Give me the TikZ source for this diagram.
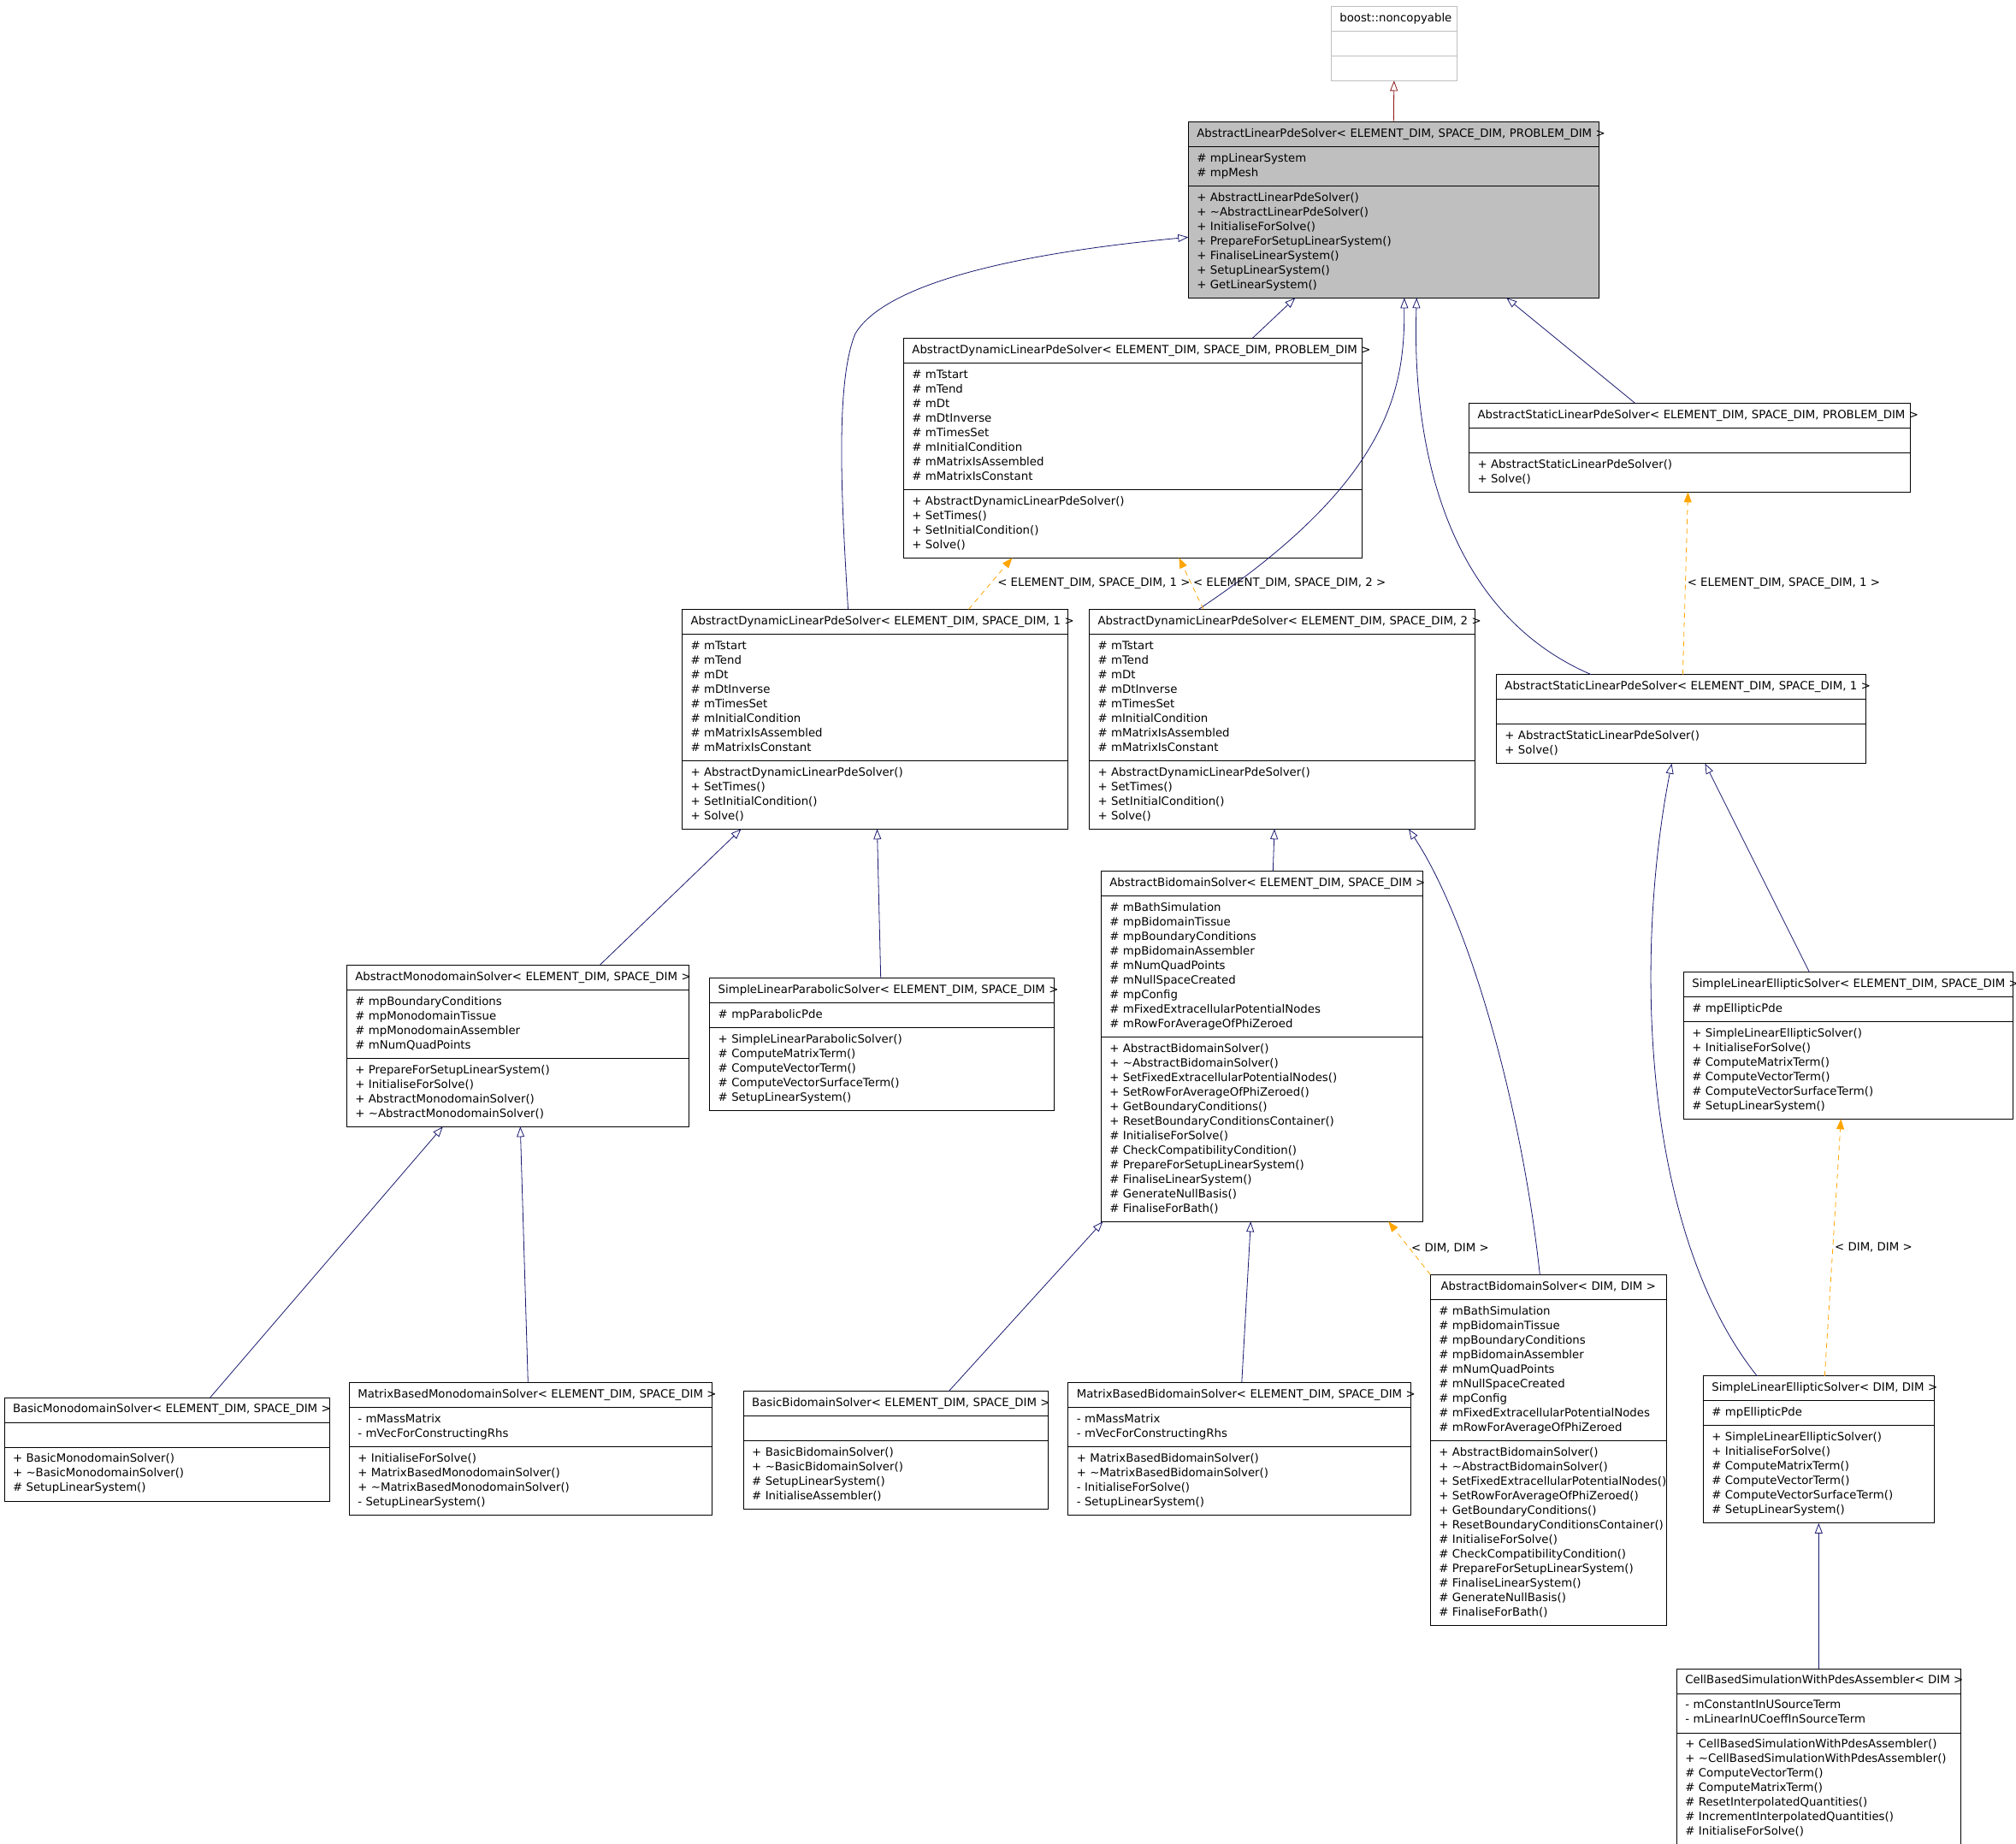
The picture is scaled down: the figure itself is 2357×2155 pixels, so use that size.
\documentclass[tikz,border=0pt]{standalone}
\usepackage{fontspec}
\newfontfamily\dejavu{DejaVu Sans}
\usetikzlibrary{arrows.meta,shapes.multipart}

\definecolor{midnight}{HTML}{191970}
\definecolor{firebrick}{HTML}{8B1A1A}
\definecolor{tplorange}{HTML}{FFA500}
\definecolor{graybox}{HTML}{BFBFBF}

\hfuzz=2000pt
\hbadness=10000
\hyphenpenalty=10000
\exhyphenpenalty=10000
% class name row: centred, or spilling out to the right when too long
\newcommand{\ctitle}[1]{\noindent\hbox to\linewidth{\hfil\strut#1\hfil}}
\newcommand{\cpart}[1]{\strut#1\strut}

\begin{document}
\begin{tikzpicture}[x=1pt, y=-1pt,
  cls/.style={rectangle split, rectangle split parts=3, draw, line width=1pt, fill=white,
    anchor=north west, inner xsep=10pt, inner ysep=5.5pt, outer sep=0pt, align=left,
    font=\dejavu\fontsize{13.3}{17}\selectfont},
  inh/.style={draw=midnight, line width=0.8pt, -{Triangle[open, length=12pt, width=9pt]}},
  priv/.style={draw=firebrick, line width=0.8pt, -{Triangle[open, length=12pt, width=9pt]}},
  tpl/.style={draw=tplorange, line width=0.8pt, dash pattern=on 6pt off 5pt,
    -{Triangle[length=12pt, width=9pt]}},
  lbl/.style={anchor=west, inner sep=2pt, font=\dejavu\fontsize{13.3}{17}\selectfont}]
\useasboundingbox (0,0) rectangle (2357,2155);

% classes
\node[cls, draw=graybox, text width=127pt] (B0) at (1556.3,7.3)
  {\ctitle{boost::noncopyable}\nodepart{two}\cpart{}\nodepart{three}\cpart{}};

\node[cls, fill=graybox, text width=460pt] (ALPS) at (1389.3,142.3)
  {\ctitle{AbstractLinearPdeSolver< ELEMENT\_DIM, SPACE\_DIM, PROBLEM\_DIM >}
   \nodepart{two}\cpart{\#~mpLinearSystem\\\#~mpMesh}
   \nodepart{three}\cpart{+~AbstractLinearPdeSolver()\\+~\textasciitilde AbstractLinearPdeSolver()\\+~InitialiseForSolve()\\+~PrepareForSetupLinearSystem()\\+~FinaliseLinearSystem()\\+~SetupLinearSystem()\\+~GetLinearSystem()}};

\node[cls, text width=516pt] (ADLPS) at (1056.4,395.3)
  {\ctitle{AbstractDynamicLinearPdeSolver< ELEMENT\_DIM, SPACE\_DIM, PROBLEM\_DIM >}
   \nodepart{two}\cpart{\#~mTstart\\\#~mTend\\\#~mDt\\\#~mDtInverse\\\#~mTimesSet\\\#~mInitialCondition\\\#~mMatrixIsAssembled\\\#~mMatrixIsConstant}
   \nodepart{three}\cpart{+~AbstractDynamicLinearPdeSolver()\\+~SetTimes()\\+~SetInitialCondition()\\+~Solve()}};

\node[cls, text width=495.7pt] (ASLPS) at (1717.5,471.3)
  {\ctitle{AbstractStaticLinearPdeSolver< ELEMENT\_DIM, SPACE\_DIM, PROBLEM\_DIM >}
   \nodepart{two}\cpart{}
   \nodepart{three}\cpart{+~AbstractStaticLinearPdeSolver()\\+~Solve()}};

\node[cls, text width=431pt] (ADLPS1) at (797.5,712.3)
  {\ctitle{AbstractDynamicLinearPdeSolver< ELEMENT\_DIM, SPACE\_DIM, 1 >}
   \nodepart{two}\cpart{\#~mTstart\\\#~mTend\\\#~mDt\\\#~mDtInverse\\\#~mTimesSet\\\#~mInitialCondition\\\#~mMatrixIsAssembled\\\#~mMatrixIsConstant}
   \nodepart{three}\cpart{+~AbstractDynamicLinearPdeSolver()\\+~SetTimes()\\+~SetInitialCondition()\\+~Solve()}};

\node[cls, text width=431pt] (ADLPS2) at (1273.5,712.3)
  {\ctitle{AbstractDynamicLinearPdeSolver< ELEMENT\_DIM, SPACE\_DIM, 2 >}
   \nodepart{two}\cpart{\#~mTstart\\\#~mTend\\\#~mDt\\\#~mDtInverse\\\#~mTimesSet\\\#~mInitialCondition\\\#~mMatrixIsAssembled\\\#~mMatrixIsConstant}
   \nodepart{three}\cpart{+~AbstractDynamicLinearPdeSolver()\\+~SetTimes()\\+~SetInitialCondition()\\+~Solve()}};

\node[cls, text width=412pt] (ASLPS1) at (1749.4,788.7)
  {\ctitle{AbstractStaticLinearPdeSolver< ELEMENT\_DIM, SPACE\_DIM, 1 >}
   \nodepart{two}\cpart{}
   \nodepart{three}\cpart{+~AbstractStaticLinearPdeSolver()\\+~Solve()}};

\node[cls, text width=356pt] (ABS) at (1287.3,1018.3)
  {\ctitle{AbstractBidomainSolver< ELEMENT\_DIM, SPACE\_DIM >}
   \nodepart{two}\cpart{\#~mBathSimulation\\\#~mpBidomainTissue\\\#~mpBoundaryConditions\\\#~mpBidomainAssembler\\\#~mNumQuadPoints\\\#~mNullSpaceCreated\\\#~mpConfig\\\#~mFixedExtracellularPotentialNodes\\\#~mRowForAverageOfPhiZeroed}
   \nodepart{three}\cpart{+~AbstractBidomainSolver()\\+~\textasciitilde AbstractBidomainSolver()\\+~SetFixedExtracellularPotentialNodes()\\+~SetRowForAverageOfPhiZeroed()\\+~GetBoundaryConditions()\\+~ResetBoundaryConditionsContainer()\\\#~InitialiseForSolve()\\\#~CheckCompatibilityCondition()\\\#~PrepareForSetupLinearSystem()\\\#~FinaliseLinearSystem()\\\#~GenerateNullBasis()\\\#~FinaliseForBath()}};

\node[cls, text width=380pt] (AMS) at (405.3,1128.3)
  {\ctitle{AbstractMonodomainSolver< ELEMENT\_DIM, SPACE\_DIM >}
   \nodepart{two}\cpart{\#~mpBoundaryConditions\\\#~mpMonodomainTissue\\\#~mpMonodomainAssembler\\\#~mNumQuadPoints}
   \nodepart{three}\cpart{+~PrepareForSetupLinearSystem()\\+~InitialiseForSolve()\\+~AbstractMonodomainSolver()\\+~\textasciitilde AbstractMonodomainSolver()}};

\node[cls, text width=383pt] (SLPS) at (829.7,1143.7)
  {\ctitle{SimpleLinearParabolicSolver< ELEMENT\_DIM, SPACE\_DIM >}
   \nodepart{two}\cpart{\#~mpParabolicPde}
   \nodepart{three}\cpart{+~SimpleLinearParabolicSolver()\\\#~ComputeMatrixTerm()\\\#~ComputeVectorTerm()\\\#~ComputeVectorSurfaceTerm()\\\#~SetupLinearSystem()}};

\node[cls, text width=365pt] (SLES) at (1968.3,1136.3)
  {\ctitle{SimpleLinearEllipticSolver< ELEMENT\_DIM, SPACE\_DIM >}
   \nodepart{two}\cpart{\#~mpEllipticPde}
   \nodepart{three}\cpart{+~SimpleLinearEllipticSolver()\\+~InitialiseForSolve()\\\#~ComputeMatrixTerm()\\\#~ComputeVectorTerm()\\\#~ComputeVectorSurfaceTerm()\\\#~SetupLinearSystem()}};

\node[cls, text width=256pt] (ABSD) at (1672.3,1490.3)
  {\ctitle{AbstractBidomainSolver< DIM, DIM >}
   \nodepart{two}\cpart{\#~mBathSimulation\\\#~mpBidomainTissue\\\#~mpBoundaryConditions\\\#~mpBidomainAssembler\\\#~mNumQuadPoints\\\#~mNullSpaceCreated\\\#~mpConfig\\\#~mFixedExtracellularPotentialNodes\\\#~mRowForAverageOfPhiZeroed}
   \nodepart{three}\cpart{+~AbstractBidomainSolver()\\+~\textasciitilde AbstractBidomainSolver()\\+~SetFixedExtracellularPotentialNodes()\\+~SetRowForAverageOfPhiZeroed()\\+~GetBoundaryConditions()\\+~ResetBoundaryConditionsContainer()\\\#~InitialiseForSolve()\\\#~CheckCompatibilityCondition()\\\#~PrepareForSetupLinearSystem()\\\#~FinaliseLinearSystem()\\\#~GenerateNullBasis()\\\#~FinaliseForBath()}};

\node[cls, text width=250pt] (SLESD) at (1991.3,1608.9)
  {\ctitle{SimpleLinearEllipticSolver< DIM, DIM >}
   \nodepart{two}\cpart{\#~mpEllipticPde}
   \nodepart{three}\cpart{+~SimpleLinearEllipticSolver()\\+~InitialiseForSolve()\\\#~ComputeMatrixTerm()\\\#~ComputeVectorTerm()\\\#~ComputeVectorSurfaceTerm()\\\#~SetupLinearSystem()}};

\node[cls, text width=360.7pt] (BMS) at (5,1634)
  {\ctitle{BasicMonodomainSolver< ELEMENT\_DIM, SPACE\_DIM >}
   \nodepart{two}\cpart{}
   \nodepart{three}\cpart{+~BasicMonodomainSolver()\\+~\textasciitilde BasicMonodomainSolver()\\\#~SetupLinearSystem()}};

\node[cls, text width=404pt] (MBMS) at (408.3,1616.3)
  {\ctitle{MatrixBasedMonodomainSolver< ELEMENT\_DIM, SPACE\_DIM >}
   \nodepart{two}\cpart{-~mMassMatrix\\-~mVecForConstructingRhs}
   \nodepart{three}\cpart{+~InitialiseForSolve()\\+~MatrixBasedMonodomainSolver()\\+~\textasciitilde MatrixBasedMonodomainSolver()\\-~SetupLinearSystem()}};

\node[cls, text width=336pt] (BBS) at (869.2,1626.7)
  {\ctitle{BasicBidomainSolver< ELEMENT\_DIM, SPACE\_DIM >}
   \nodepart{two}\cpart{}
   \nodepart{three}\cpart{+~BasicBidomainSolver()\\+~\textasciitilde BasicBidomainSolver()\\\#~SetupLinearSystem()\\\#~InitialiseAssembler()}};

\node[cls, text width=380.5pt] (MBBS) at (1248.8,1616.3)
  {\ctitle{MatrixBasedBidomainSolver< ELEMENT\_DIM, SPACE\_DIM >}
   \nodepart{two}\cpart{-~mMassMatrix\\-~mVecForConstructingRhs}
   \nodepart{three}\cpart{+~MatrixBasedBidomainSolver()\\+~\textasciitilde MatrixBasedBidomainSolver()\\-~InitialiseForSolve()\\-~SetupLinearSystem()}};

\node[cls, text width=312pt] (CBS) at (1960.3,1951)
  {\ctitle{CellBasedSimulationWithPdesAssembler< DIM >}
   \nodepart{two}\cpart{-~mConstantInUSourceTerm\\-~mLinearInUCoeffInSourceTerm}
   \nodepart{three}\cpart{+~CellBasedSimulationWithPdesAssembler()\\+~\textasciitilde CellBasedSimulationWithPdesAssembler()\\\#~ComputeVectorTerm()\\\#~ComputeMatrixTerm()\\\#~ResetInterpolatedQuantities()\\\#~IncrementInterpolatedQuantities()\\\#~InitialiseForSolve()}};

% inheritance
\draw[priv] (ALPS.north) -- (B0.south);
\draw[inh] ([xshift=408pt]ADLPS.north west) -- ([xshift=125pt]ALPS.south west);
\draw[inh] ([xshift=194pt]ASLPS.north west) -- ([xshift=372pt]ALPS.south west);
\draw[inh] ([xshift=194pt]ADLPS1.north west) .. controls (985,600) and (975,450) .. (1000,390)
  .. controls (1030,340) and (1150,300) .. ([yshift=-135pt]ALPS.north west);
\draw[inh] ([xshift=128pt]ADLPS2.north west) .. controls (1630,560) and (1642,450) .. ([xshift=252.5pt]ALPS.south west);
\draw[inh] ([xshift=111pt]ASLPS1.north west) .. controls (1700,720) and (1650,540) .. ([xshift=267pt]ALPS.south west);
\draw[inh] ([xshift=296pt]AMS.north west) -- ([xshift=69pt]ADLPS1.south west);
\draw[inh] ([xshift=200pt]SLPS.north west) -- ([xshift=228pt]ADLPS1.south west);
\draw[inh] ([xshift=201pt]ABS.north west) -- ([xshift=216.5pt]ADLPS2.south west);
\draw[inh] ([xshift=128pt]ABSD.north west) .. controls (1780,1300) and (1720,1080) .. ([xshift=373.5pt]ADLPS2.south west);
\draw[inh] ([xshift=240.7pt]BMS.north west) -- ([xshift=112.4pt]AMS.south west);
\draw[inh] ([xshift=209pt]MBMS.north west) -- ([xshift=203pt]AMS.south west);
\draw[inh] ([xshift=240pt]BBS.north west) -- ([xshift=2pt]ABS.south west);
\draw[inh] ([xshift=203pt]MBBS.north west) -- ([xshift=175pt]ABS.south west);
\draw[inh] ([xshift=147pt]SLES.north west) -- ([xshift=244pt]ASLPS1.south west);
\draw[inh] ([xshift=63pt]SLESD.north west) .. controls (1920,1440) and (1910,1120) .. ([xshift=205pt]ASLPS1.south west);
\draw[inh] (CBS.north) -- (SLESD.south);

% template instances
\draw[tpl] ([xshift=335pt]ADLPS1.north west) -- node[lbl, xshift=6pt] {< ELEMENT\_DIM, SPACE\_DIM, 1 >} ([xshift=127pt]ADLPS.south west);
\draw[tpl] ([xshift=133.5pt]ADLPS2.north west) -- node[lbl] {< ELEMENT\_DIM, SPACE\_DIM, 2 >} ([xshift=322pt]ADLPS.south west);
\draw[tpl] ([xshift=218pt]ASLPS1.north west) -- node[lbl] {< ELEMENT\_DIM, SPACE\_DIM, 1 >} ([xshift=256pt]ASLPS.south west);
\draw[tpl] (ABSD.north west) -- node[lbl] {< DIM, DIM >} ([xshift=336pt]ABS.south west);
\draw[tpl] ([xshift=142pt]SLESD.north west) -- node[lbl] {< DIM, DIM >} ([xshift=184pt]SLES.south west);
\end{tikzpicture}
\end{document}
